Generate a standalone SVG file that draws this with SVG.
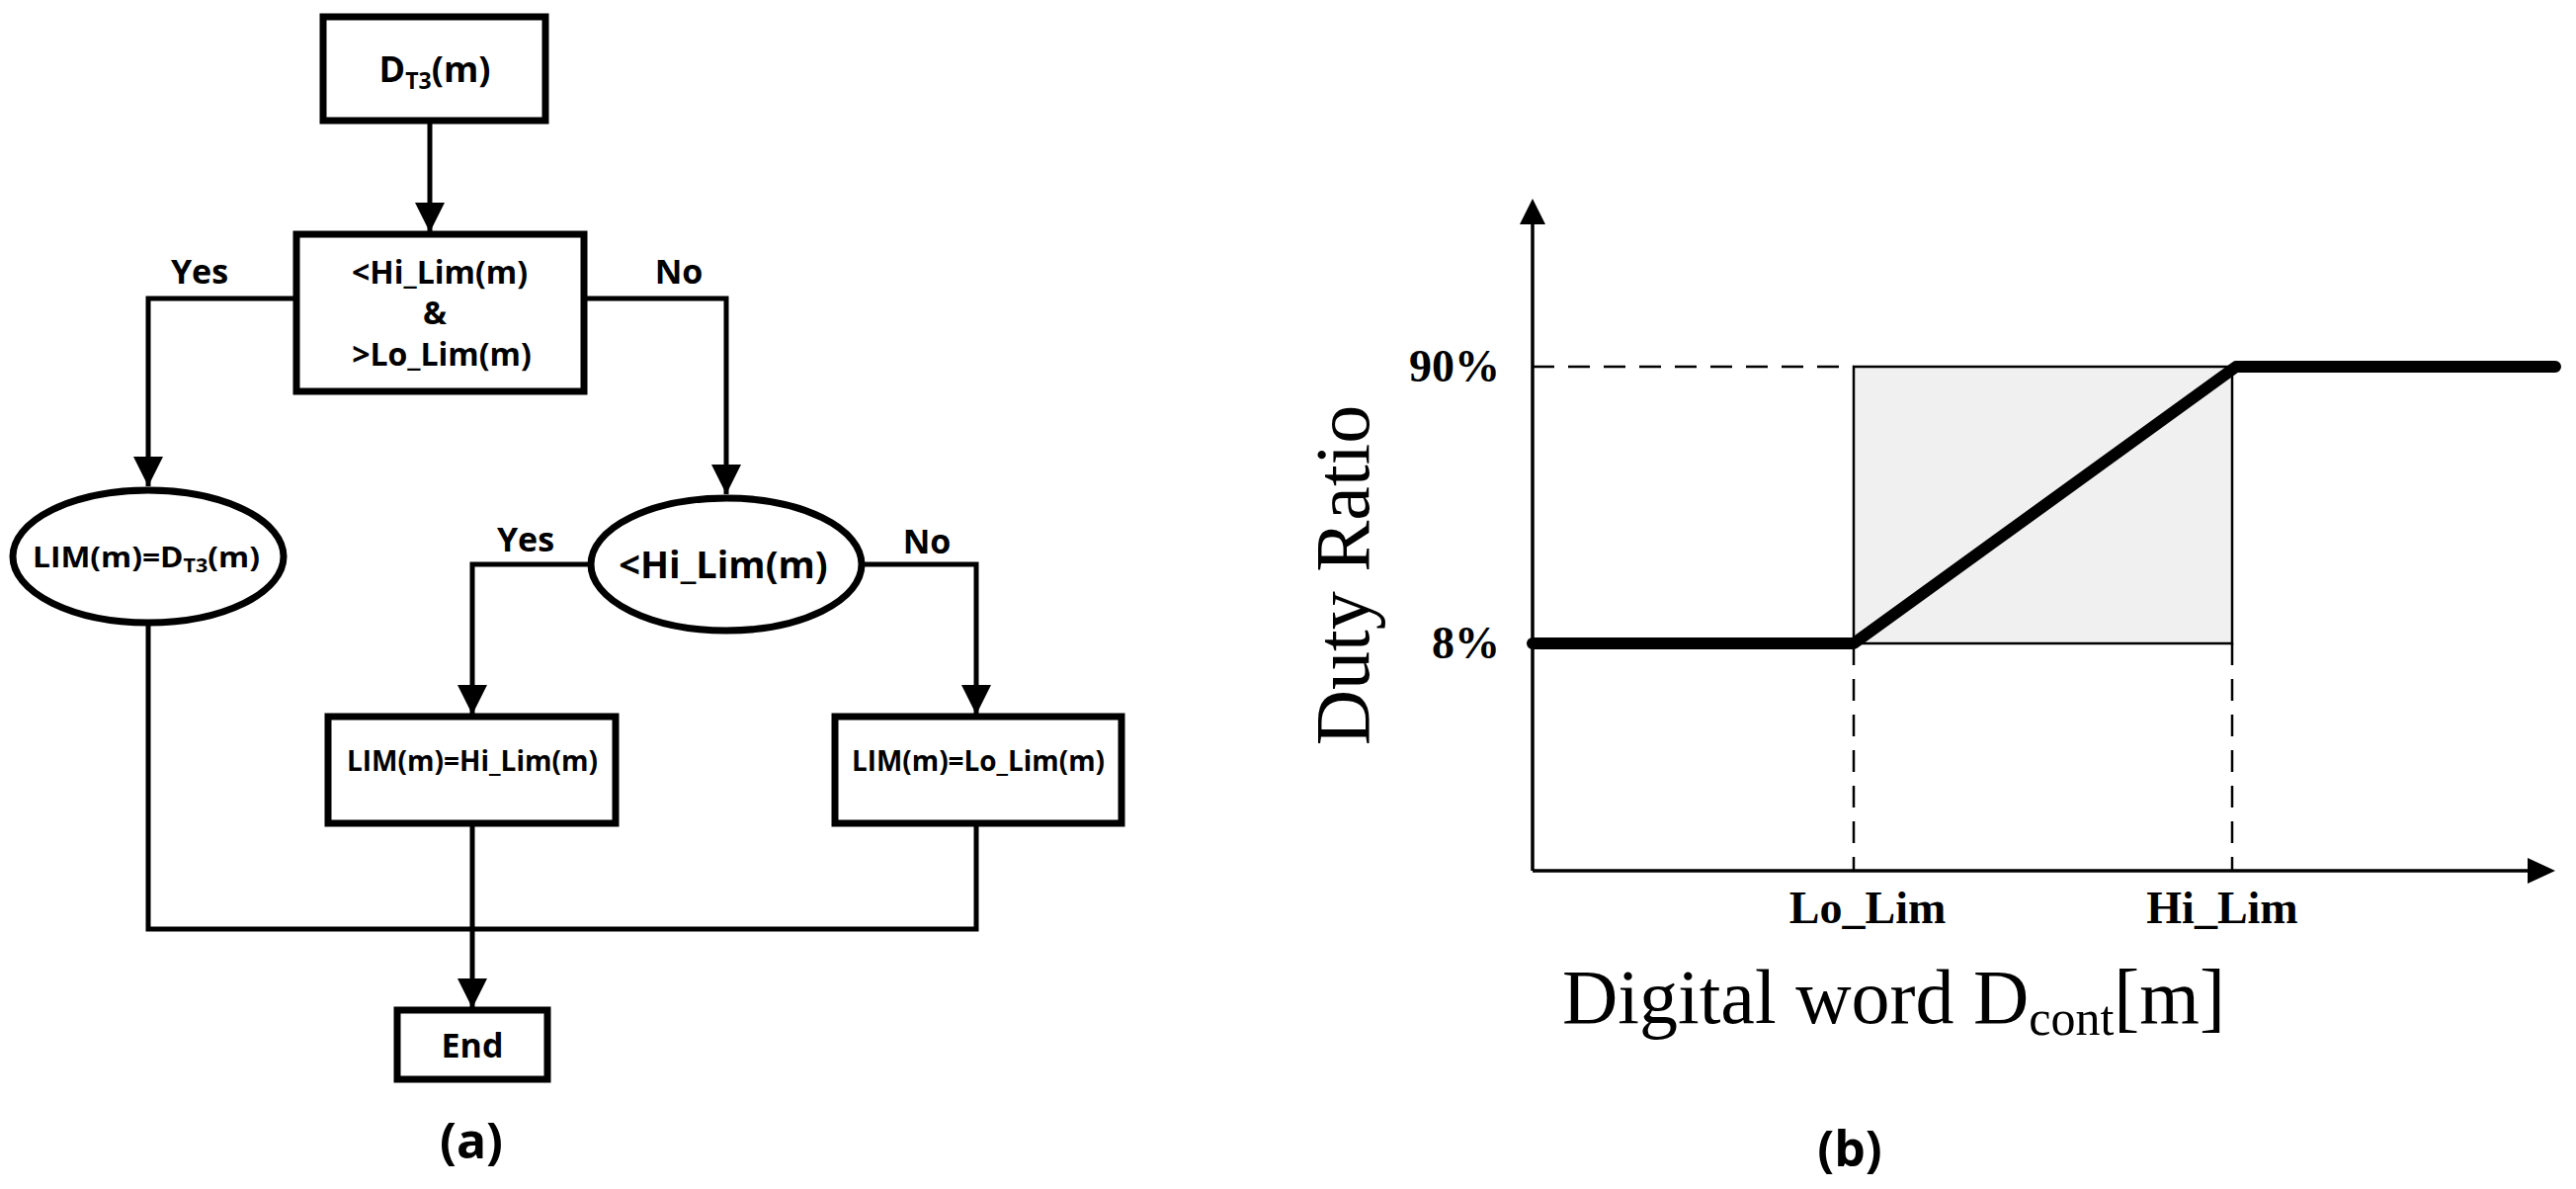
<svg xmlns="http://www.w3.org/2000/svg" width="2607" height="1203" viewBox="0 0 2607 1203">
<style>
.box{fill:#fff;stroke:#000;stroke-width:7}
.c{fill:none;stroke:#000;stroke-width:5}
.ft{font-family:"Open Sans","DejaVu Sans",sans-serif;font-weight:bold;fill:#000;text-anchor:middle}
.tr{font-family:"Liberation Serif",serif;fill:#000}
.dash{stroke:#000;stroke-width:2.5;stroke-dasharray:22 14;fill:none}
</style>
<defs>
<marker id="ah" viewBox="0 0 10 10" refX="10" refY="5" markerWidth="6.5" markerHeight="6" orient="auto" markerUnits="strokeWidth"><path d="M0,0 L10,5 L0,10 z" fill="#000"/></marker>
</defs>
<rect width="2607" height="1203" fill="#fff"/>
<g id="connectors">
<path class="c" d="M435,122 V235" marker-end="url(#ah)"/>
<path class="c" d="M300,302 H150 V492" marker-end="url(#ah)"/>
<path class="c" d="M591,302 H735 V500" marker-end="url(#ah)"/>
<path class="c" d="M597,571 H478 V723" marker-end="url(#ah)"/>
<path class="c" d="M873,571 H988 V723" marker-end="url(#ah)"/>
<path class="c" d="M150,631 V940 H988 V833"/>
<path class="c" d="M478,833 V1020" marker-end="url(#ah)"/>
</g>
<g id="n1"><rect class="box" x="327" y="17" width="225" height="105"/><text class="ft" x="440" y="83" font-size="36">D<tspan font-size="23" dy="7">T3</tspan><tspan dy="-7">(m)</tspan></text></g>
<g id="n2"><rect class="box" x="300" y="237" width="291" height="159"/>
<text class="ft" x="445" y="287" font-size="32">&lt;Hi_Lim(m)</text>
<text class="ft" x="440" y="328" font-size="32">&amp;</text>
<text class="ft" x="447" y="370" font-size="32">&gt;Lo_Lim(m)</text></g>
<text class="ft" x="202" y="287" font-size="34">Yes</text>
<text class="ft" x="687" y="287" font-size="34">No</text>
<g id="n3"><ellipse class="box" cx="150" cy="563" rx="137" ry="67"/><text class="ft" x="148" y="574" font-size="28" textLength="230" lengthAdjust="spacingAndGlyphs">LIM(m)=D<tspan font-size="19" dy="5">T3</tspan><tspan dy="-5">(m)</tspan></text></g>
<g id="n4"><ellipse class="box" cx="735" cy="571" rx="137" ry="67"/><text class="ft" x="732" y="585" font-size="38">&lt;Hi_Lim(m)</text></g>
<text class="ft" x="532" y="558" font-size="34">Yes</text>
<text class="ft" x="938" y="560" font-size="34">No</text>
<g id="n5"><rect class="box" x="332" y="725" width="291" height="108"/><text class="ft" x="478" y="780" font-size="28" textLength="254" lengthAdjust="spacingAndGlyphs">LIM(m)=Hi_Lim(m)</text></g>
<g id="n6"><rect class="box" x="845" y="725" width="290" height="108"/><text class="ft" x="990" y="780" font-size="28" textLength="256" lengthAdjust="spacingAndGlyphs">LIM(m)=Lo_Lim(m)</text></g>
<g id="n7"><rect class="box" x="402" y="1022" width="152" height="70"/><text class="ft" x="478" y="1070" font-size="34">End</text></g>
<text class="ft" x="477" y="1172" font-size="50">(a)</text>
<g id="chart">
<rect x="1876" y="371" width="383" height="280" fill="#f0f0f0" stroke="#000" stroke-width="2.5"/>
<path class="dash" d="M1551,371 H1876 M1876,651 V881 M2259,651 V881"/>
<path d="M1551,881 V225" stroke="#000" stroke-width="3.5" fill="none"/>
<path d="M1538,227 L1551,201 L1564,227 z" fill="#000"/>
<path d="M1551,881 H2560" stroke="#000" stroke-width="3.5" fill="none"/>
<path d="M2558,868 L2586,881 L2558,894 z" fill="#000"/>
<path d="M1551,651 H1876 L2263,371 H2586" stroke="#000" stroke-width="12" fill="none" stroke-linecap="round" stroke-linejoin="round"/>
<text class="tr" x="1518" y="386" font-size="46" font-weight="bold" text-anchor="end">90%</text>
<text class="tr" x="1518" y="666" font-size="46" font-weight="bold" text-anchor="end">8%</text>
<text class="tr" x="1890" y="934" font-size="46" font-weight="bold" text-anchor="middle">Lo_Lim</text>
<text class="tr" x="2249" y="934" font-size="46" font-weight="bold" text-anchor="middle">Hi_Lim</text>
<text class="tr" transform="translate(1385,582) rotate(-90)" font-size="78" text-anchor="middle">Duty Ratio</text>
<text class="tr" x="1581" y="1035" font-size="78">Digital word D<tspan font-size="50" dy="12">cont</tspan><tspan dy="-12">[m]</tspan></text>
</g>
<text class="ft" x="1872" y="1180" font-size="50">(b)</text>
</svg>
